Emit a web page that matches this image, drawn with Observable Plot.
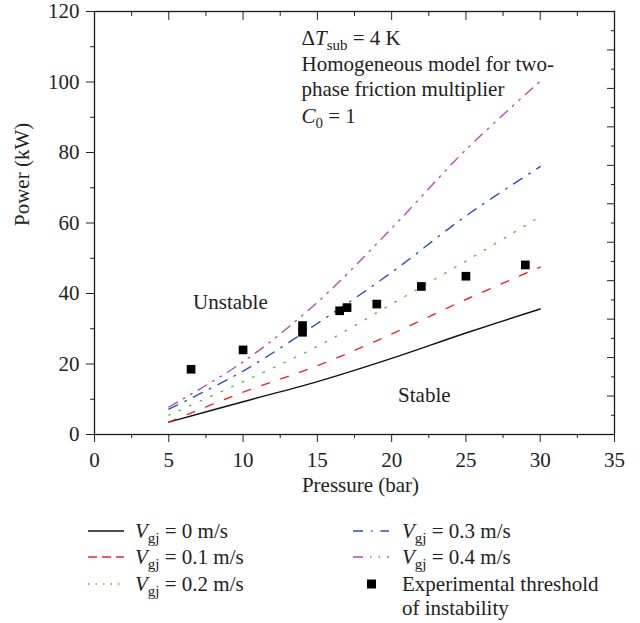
<!DOCTYPE html>
<html><head><meta charset="utf-8">
<script src="https://cdn.jsdelivr.net/npm/d3@7"></script>
<script src="https://cdn.jsdelivr.net/npm/@observablehq/plot@0.6"></script>
<style>
body{margin:0;background:#fff;font-family:"Liberation Serif",serif;}
#wrap{position:relative;width:640px;height:623px;}
#legend{position:absolute;left:0;top:510px;width:640px;height:113px;font-size:21px;color:#222;}
.item{position:absolute;height:24px;display:flex;align-items:flex-start;white-space:nowrap;line-height:24px;}
.item svg{flex:none;}
.sub{font-size:15px;position:relative;top:5px;}
</style></head><body><div id="wrap"><div id="chart"></div><div id="legend"></div></div>
<script>
// ---- data ----
const pressure = [5, 10, 15, 20, 25, 30];
const powerV0  = [3.5, 9.3, 15.0, 21.6, 28.8, 35.6];
const powerV01 = [3.5, 12.0, 19.5, 28.5, 38.3, 47.5];
const powerV02 = [5.5, 15.0, 25.0, 37.0, 49.2, 61.8];
const powerV03 = [7.2, 18.0, 31.5, 46.0, 62.0, 76.0];
const powerV04 = [7.8, 20.6, 37.5, 58.5, 80.8, 100.2];
const seriesVgj = ["0", "0.1", "0.2", "0.3", "0.4"];
const seriesPower = [powerV0, powerV01, powerV02, powerV03, powerV04];
const seriesColors = ["#111111", "#e8262a", "#5cb83c", "#3050b8", "#b24cb2"];
const seriesDash = [null, "8,12", "1.5,10", "10,8,1.5,8", "10,7,1.5,7,1.5,7"];

const expPressure = [6.5, 10, 14, 14, 16.5, 17, 19, 22, 25, 29];
const expPower    = [18.5, 24, 30.9, 29.0, 35.1, 36, 37, 42, 44.9, 48.1];

const xMajor = [0, 5, 10, 15, 20, 25, 30, 35];
const xMinor = [2.5, 7.5, 12.5, 17.5, 22.5, 27.5, 32.5];
const yMajor = [0, 20, 40, 60, 80, 100, 120];
const yMinor = [10, 30, 50, 70, 90, 110];
// unlabeled right-hand axis: 11 major divisions over the frame height
const rightMajor = [0,1,2,3,4,5,6,7,8,9,10,11];
const rightMinor = [0.5,1.5,2.5,3.5,4.5,5.5,6.5,7.5,8.5,9.5,10.5];
const rightMax = 11;

const annotationLines = ["ΔTsub = 4 K", "Homogeneous model for two-", "phase friction multiplier", "C0 = 1"];
const annotationX = 13.93;
const annotationY = [112.4, 105.1, 97.8, 90.4];
const regionLabels = ["Unstable", "Stable"];
const regionX = [9.15, 22.2];
const regionY = [37.6, 11.0];

// ---- build tables ----
const lineRows = [];
seriesVgj.forEach((v, i) => pressure.forEach((p, j) => lineRows.push({v, p, power: seriesPower[i][j]})));
const expRows = expPressure.map((p, i) => ({p, power: expPower[i]}));
const annRows = annotationLines.map((t, i) => ({t, x: annotationX, y: annotationY[i]}));
const regRows = regionLabels.map((t, i) => ({t, x: regionX[i], y: regionY[i]}));
const yMax = 120;
const toY = v => v * yMax / rightMax;
const blank = () => "";

const marks = [
  Plot.axisY({ticks: yMajor, tickSize: 8, tickPadding: 7, label: null}),
  Plot.axisY({ticks: yMinor, tickSize: 4, tickFormat: blank, label: null}),
  Plot.axisY({anchor: "right", ticks: rightMajor.map(toY), tickSize: -8, tickFormat: blank, label: null}),
  Plot.axisY({anchor: "right", ticks: rightMinor.map(toY), tickSize: -4, tickFormat: blank, label: null}),
  Plot.axisX({ticks: xMajor, tickSize: 8, tickPadding: 10, label: null}),
  Plot.axisX({ticks: xMinor, tickSize: 4, tickFormat: blank, label: null}),
  Plot.axisX({anchor: "top", ticks: xMajor, tickSize: -8, tickFormat: blank, label: null}),
  Plot.axisX({anchor: "top", ticks: xMinor, tickSize: -4, tickFormat: blank, label: null}),
  Plot.frame({stroke: "#1a1a1a", strokeWidth: 1.3}),
  ...seriesVgj.map((v, i) => Plot.line(lineRows.filter(d => d.v === v), {
    x: "p", y: "power", stroke: seriesColors[i], strokeWidth: 1.4,
    strokeDasharray: seriesDash[i], curve: "catmull-rom"
  })),
  Plot.dot(expRows, {x: "p", y: "power", symbol: "square", r: 4.9, fill: "#000", stroke: null}),
  Plot.text(annRows, {x: "x", y: "y", text: "t", textAnchor: "start", fill: "#222"}),
  Plot.text(regRows, {x: "x", y: "y", text: "t", fill: "#222"}),
  Plot.text(["Pressure (bar)"], {frameAnchor: "bottom", dy: 57, dx: 6, fill: "#222"}),
  Plot.text(["Power (kW)"], {frameAnchor: "left", dx: -72, dy: 3, rotate: -90, fill: "#222"})
];

const chart = Plot.plot({
  width: 640, height: 510,
  marginLeft: 94, marginRight: 26, marginTop: 11, marginBottom: 76,
  x: {domain: [0, 35]},
  y: {domain: [0, yMax]},
  style: {fontFamily: "'Liberation Serif', serif", fontSize: "21px", color: "#222", background: "white", overflow: "visible"},
  marks
});
document.getElementById("chart").appendChild(chart);

// rich text (italic symbols and subscripts) for the annotation
const NS = "http://www.w3.org/2000/svg";
function rich(node, parts) {
  node.textContent = "";
  parts.forEach(([s, style]) => {
    const t = document.createElementNS(NS, "tspan");
    t.textContent = s;
    if (style === "i") t.setAttribute("font-style", "italic");
    if (style === "sub") { t.setAttribute("font-size", "15px"); t.setAttribute("dy", "5"); }
    if (style === "back") t.setAttribute("dy", "-5");
    node.appendChild(t);
  });
}
d3.select(chart).selectAll("text").each(function() {
  const s = this.textContent;
  if (s === annotationLines[0]) rich(this, [["Δ"], ["T", "i"], ["sub", "sub"], [" = 4 K", "back"]]);
  if (s === annotationLines[3]) rich(this, [["C", "i"], ["0", "sub"], [" = 1", "back"]]);
});

// ---- legend below the plot ----
const legend = d3.select("#legend");
const legendPos = [[88, 9], [88, 35], [88, 62], [353, 9], [353, 35]];
seriesVgj.forEach((v, i) => {
  const item = legend.append("div").attr("class", "item")
    .style("left", legendPos[i][0] + "px").style("top", legendPos[i][1] + "px");
  const svg = item.append("svg").attr("width", 36).attr("height", 24).style("margin-right", i < 3 ? "11px" : "13px");
  svg.append("line").attr("x1", 0).attr("x2", 36).attr("y1", 12).attr("y2", 12)
    .attr("stroke", seriesColors[i]).attr("stroke-width", 1.4)
    .attr("stroke-dasharray", i === 1 ? "9,5" : i === 2 ? "1.5,6" : seriesDash[i]);
  item.append("span").html(`<i>V</i><span class="sub">gj</span> = ${v} m/s`);
});
const expItem = legend.append("div").attr("class", "item")
  .style("left", "353px").style("top", "62px").style("white-space", "normal");
const sq = expItem.append("svg").attr("width", 36).attr("height", 24).style("margin-right", "13px");
sq.append("rect").attr("x", 14).attr("y", 7.5).attr("width", 9).attr("height", 9).attr("fill", "#000");
expItem.append("span").html("Experimental threshold<br>of instability");
</script>
</body></html>
